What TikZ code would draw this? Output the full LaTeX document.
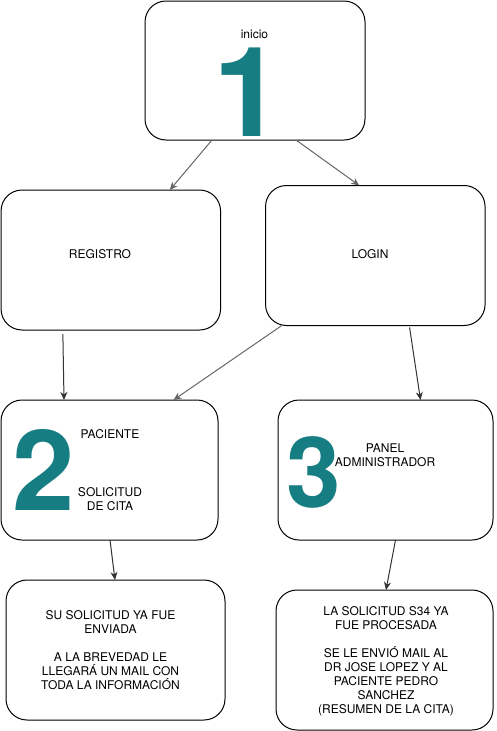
\documentclass[tikz,border=0pt]{standalone}
\usepackage{fontspec}
\setmainfont{TeX Gyre Heros}
\usetikzlibrary{arrows.meta}
\definecolor{numteal}{RGB}{22,126,130}
\begin{document}
\begin{tikzpicture}[x=1pt, y=-1pt,
  every node/.style={font=\fontsize{12}{14}\selectfont, align=center, inner sep=0pt, outer sep=0pt},
  card/.style={draw, line width=1pt, rounded corners=21pt},
  bignum/.style={text=numteal, font=\fontsize{#1}{#1}\selectfont\bfseries, text depth=0pt},
  flow/.style={-{Stealth[length=8pt, width=7pt, inset=2.5pt]}, line width=1pt, black!80},
  flowgray/.style={flow, black!60}]
  \useasboundingbox (0,0) rectangle (496,731);
  % Boxes:   inicio
  %         /      \
  %    registro    login
  %        |      /    \
  %     paciente      admin
  %        |            |
  %     enviado     procesado
  \node[card, minimum width=220pt, minimum height=139pt] (inicio) at (255,70.5) {};
  \node[card, minimum width=219.5pt, minimum height=140pt] (registro) at (110.8,260) {};
  \node[card, minimum width=219.5pt, minimum height=140pt] (login) at (375.3,255.5) {};
  \node[card, minimum width=217pt, minimum height=140pt] (paciente) at (109.5,470) {};
  \node[card, minimum width=215pt, minimum height=140pt] (admin) at (385.5,470) {};
  \node[card, minimum width=219pt, minimum height=140pt] (enviado) at (115.5,650) {};
  \node[card, minimum width=217pt, minimum height=140pt] (procesado) at (384.5,660) {};
  % Labels inside the boxes
  \node (inicioTxt) at (254.5,34.5) {inicio};
  \node[bignum=125, text height=89pt] (num1) at (248,91.5) {1};
  \node (registroTxt) at (100,254.3) {REGISTRO};
  \node (loginTxt) at (370,254.5) {LOGIN};
  \node[bignum=112, text height=81pt] (num2) at (43.5,469.5) {2};
  \node (pacienteTxt) at (110,434) {PACIENTE};
  \node (solicitudTxt) at (110,499) {SOLICITUD\\DE CITA};
  \node[bignum=98, text height=71pt] (num3) at (313.5,472) {3};
  \node (adminTxt) at (385,455.5) {PANEL\\ADMINISTRADOR};
  \node (enviadoTxt) at (110.5,650.5) {SU SOLICITUD YA FUE\\ENVIADA\\[14pt]A LA BREVEDAD LE\\LLEGARÁ UN MAIL CON\\TODA LA INFORMACIÓN};
  \node (procesadoTxt) at (386,661) {LA SOLICITUD S34 YA\\FUE PROCESADA\\[14pt]SE LE ENVIÓ MAIL AL\\DR JOSE LOPEZ Y AL\\PACIENTE PEDRO\\SANCHEZ\\(RESUMEN DE LA CITA)};
  % Connectors
  \draw[flowgray] ([xshift=-43pt]inicio.south) -- ([xshift=59pt]registro.north);
  \draw[flowgray] ([xshift=41pt]inicio.south) -- ([xshift=-16pt]login.north);
  \draw[flow, shorten <=4pt] ([xshift=-48pt]registro.south) -- ([xshift=-45.5pt]paciente.north);
  \draw[flowgray] ([xshift=-93.5pt]login.south) -- ([xshift=64pt]paciente.north);
  \draw[flow, shorten <=2pt] ([xshift=34pt]login.south) -- ([xshift=35pt]admin.north);
  \draw[flow] ([xshift=0.5pt]paciente.south) -- ([xshift=-0.5pt]enviado.north);
  \draw[flow] ([xshift=10pt]admin.south) -- ([xshift=1.5pt]procesado.north);
\end{tikzpicture}
\end{document}
